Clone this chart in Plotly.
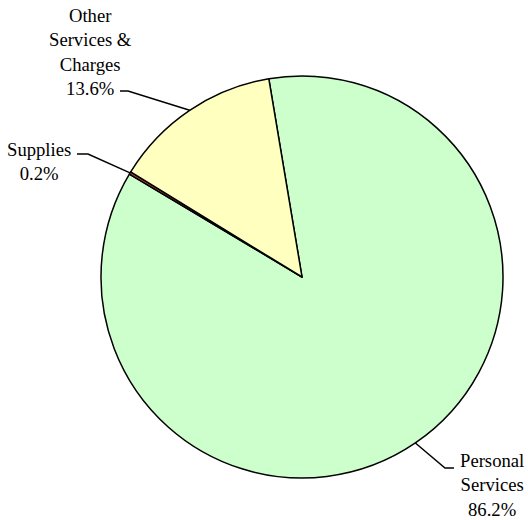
import math
import plotly.graph_objects as go

# Budget composition by category
categories = ["Personal<br>Services", "Supplies", "Other<br>Services &<br>Charges"]
shares = [86.2, 0.2, 13.6]
pct_labels = ["86.2%", "0.2%", "13.6%"]
colors = ["#CCFFCC", "#B5473F", "#FFFFC0"]

# Canvas and pie geometry (pixels)
W, H = 528, 520
CX, CY, R = 302, 277, 201
ROTATION = -9.5
SERIF = "Liberation Serif"

# Label placement: text centre, elbow of leader line, end of short stub
label_layout = [
    {"text": (492, 485), "elbow": (445, 468), "stub": (454, 468)},
    {"text": (39, 161), "elbow": (88, 154), "stub": (77, 154)},
    {"text": (90, 52), "elbow": (128, 91), "stub": (120, 91)},
]


def px(x):
    return x / W


def py(y):
    return 1 - y / H


fig = go.Figure(
    go.Pie(
        labels=[c.replace("<br>", " ") for c in categories],
        values=shares,
        sort=False,
        direction="clockwise",
        rotation=ROTATION,
        textinfo="none",
        hoverinfo="label+percent",
        marker=dict(colors=colors, line=dict(color="black", width=1.5)),
        domain=dict(x=[px(CX - R), px(CX + R)], y=[py(CY + R), py(CY - R)]),
    )
)

total = sum(shares)
cum = 0.0
annotations = []
shapes = []
for cat, val, pct, lay in zip(categories, shares, pct_labels, label_layout):
    mid = math.radians(ROTATION + 360 * (cum + val / 2) / total)
    cum += val
    ex = CX + R * math.sin(mid)
    ey = CY - R * math.cos(mid)
    (bx, by), (sx, sy) = lay["elbow"], lay["stub"]
    shapes.append(
        dict(
            type="path",
            xref="paper",
            yref="paper",
            path=f"M {px(ex)} {py(ey)} L {px(bx)} {py(by)} L {px(sx)} {py(sy)}",
            line=dict(color="black", width=1.5),
        )
    )
    tx, ty = lay["text"]
    annotations.append(
        dict(
            x=px(tx),
            y=py(ty),
            xref="paper",
            yref="paper",
            text=f"{cat}<br>{pct}",
            showarrow=False,
            xanchor="center",
            yanchor="middle",
            align="center",
            borderpad=0,
            font=dict(family=SERIF, size=18.67, color="black"),
        )
    )

fig.update_layout(
    width=W,
    height=H,
    autosize=False,
    margin=dict(l=0, r=0, t=0, b=0),
    paper_bgcolor="white",
    plot_bgcolor="white",
    font=dict(family=SERIF),
    showlegend=False,
    annotations=annotations,
    shapes=shapes,
)

fig.write_html("out.html")
